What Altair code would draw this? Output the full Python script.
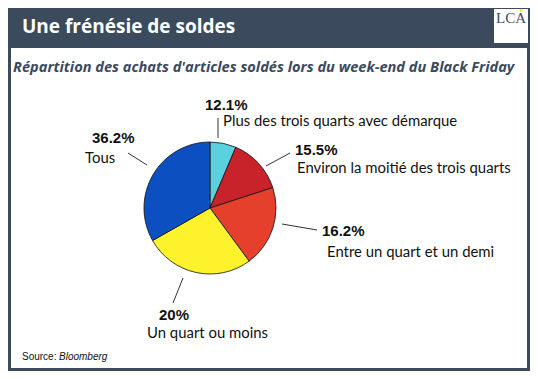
import altair as alt
import pandas as pd

# ---- data ----
categories = ["Plus des trois quarts avec démarque",
              "Environ la moitié des trois quarts",
              "Entre un quart et un demi",
              "Un quart ou moins",
              "Tous"]
pct_labels = ["12.1%", "15.5%", "16.2%", "20%", "36.2%"]
# slice sizes as drawn in the picture (percent of circle)
shares = [6.4, 13.6, 19.9, 26.9, 33.2]
colors = ["#5bd1df", "#c8232a", "#e4402b", "#fdf22b", "#0b4fc0"]

# ---- layout (chart pixel coordinates) ----
NAVY = "#3b4a5d"
W, H = 522, 363
CX, CY, R = 202, 200, 66
pct_x = [197, 287, 314, 151, 84]
pct_y = [102, 147, 228, 312, 135]
cat_x = [215, 289, 319, 139, 77]
cat_y = [118, 165, 249, 330, 155]
lead_x1 = [210, 258, 274, 175, 120]
lead_y1 = [110, 158, 216, 270, 145]
lead_x2 = [210, 282, 309, 165, 139]
lead_y2 = [130, 145, 222, 295, 157]

pie_df = pd.DataFrame({"cat": categories, "share": shares,
                       "idx": list(range(len(categories)))})
lab_df = pd.DataFrame({"pct": pct_labels, "cat": categories,
                       "px": pct_x, "py": pct_y, "cx": cat_x, "cy": cat_y})
lead_df = pd.DataFrame({"x1": lead_x1, "y1": lead_y1, "x2": lead_x2, "y2": lead_y2})
one = pd.DataFrame({"a": [0]})

panel = alt.Chart(one).mark_rect(color="white").encode(
    x=alt.value(3), x2=alt.value(519), y=alt.value(40), y2=alt.value(360))

logo = alt.Chart(one).mark_rect(color="white").encode(
    x=alt.value(486), x2=alt.value(520), y=alt.value(1), y2=alt.value(35))
logo_txt = alt.Chart(one).mark_text(text="LCA", font="Liberation Serif", fontSize=15,
                                    color=NAVY, align="center", baseline="alphabetic").encode(
    x=alt.value(503), y=alt.value(15))
logo_tri = alt.Chart(one).mark_point(shape="triangle-down", filled=True, color="#f2e600",
                                     size=14, opacity=1).encode(
    x=alt.value(513), y=alt.value(3))

title = alt.Chart(one).mark_text(text="Une frénésie de soldes", font="Open Sans",
                                 fontWeight="bold", fontSize=19, color="white",
                                 align="left", baseline="alphabetic").encode(
    x=alt.value(14), y=alt.value(25))

subtitle = alt.Chart(one).mark_text(
    text="Répartition des achats d'articles soldés lors du week-end du Black Friday",
    font="Open Sans", fontWeight="bold", fontStyle="italic", fontSize=14.6, color=NAVY,
    align="left", baseline="alphabetic").encode(x=alt.value(5), y=alt.value(64))

pie = alt.Chart(pie_df).mark_arc(outerRadius=R, stroke="#111", strokeWidth=0.8).encode(
    theta=alt.Theta("share:Q", stack=True),
    order=alt.Order("idx:Q"),
    color=alt.Color("cat:N", scale=alt.Scale(domain=categories, range=colors), legend=None),
    x=alt.value(CX), y=alt.value(CY))

leaders = alt.Chart(lead_df).mark_rule(color="#333", strokeWidth=1).encode(
    x=alt.X("x1:Q", scale=None, axis=None), y=alt.Y("y1:Q", scale=None, axis=None),
    x2="x2:Q", y2="y2:Q")

pct_txt = alt.Chart(lab_df).mark_text(font="Liberation Sans", fontWeight="bold", fontSize=15,
                                      color="#111", align="left", baseline="alphabetic").encode(
    x=alt.X("px:Q", scale=None, axis=None), y=alt.Y("py:Q", scale=None, axis=None),
    text="pct:N")

cat_txt = alt.Chart(lab_df).mark_text(font="Lato", fontSize=14.9, color="#111",
                                      align="left", baseline="alphabetic").encode(
    x=alt.X("cx:Q", scale=None, axis=None), y=alt.Y("cy:Q", scale=None, axis=None),
    text="cat:N")

src1 = alt.Chart(one).mark_text(text="Source:", font="Liberation Sans", fontSize=10,
                                color="#111", align="left", baseline="alphabetic").encode(
    x=alt.value(14), y=alt.value(352))
src2 = alt.Chart(one).mark_text(text="Bloomberg", font="Liberation Sans", fontSize=10,
                                fontStyle="italic", color="#111", align="left",
                                baseline="alphabetic").encode(
    x=alt.value(51), y=alt.value(352))

chart = alt.layer(panel, logo, logo_txt, logo_tri, title, subtitle, pie, leaders,
                  pct_txt, cat_txt, src1, src2).properties(
    width=W, height=H, padding=0, background=NAVY
).configure_view(stroke=None)

chart.save("out.html", embed_options={"renderer": "svg", "actions": False})
